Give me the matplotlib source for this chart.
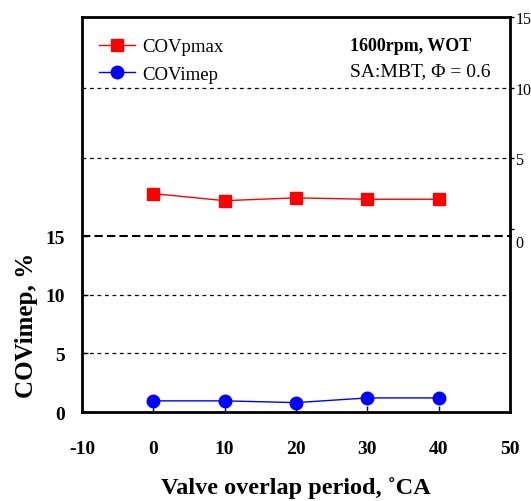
import matplotlib
matplotlib.use("Agg")
import matplotlib.pyplot as plt
import matplotlib.transforms as mtransforms

# data
overlap = [0, 10, 20, 30, 40]
cov_pmax = [2.5, 2.0, 2.2, 2.1, 2.1]
cov_imep = [0.95, 0.95, 0.8, 1.2, 1.2]
y_ticks = [0, 5, 10, 15]
x_ticks = [-10, 0, 10, 20, 30, 40, 50]

plt.rcParams["font.family"] = ["Liberation Serif", "DejaVu Serif"]

W, H = 531, 502
fig = plt.figure(figsize=(W / 100, H / 100), dpi=100)

left, right = 82 / W, 510 / W
bot_lo, top_lo = 1 - 413 / H, 1 - 237 / H
top_up = 1 - 18 / H

# lower panel: COVimep on left axis
ax = fig.add_axes([left, bot_lo, right - left, top_lo - bot_lo])
ax.plot(overlap, cov_imep, color="blue", lw=1, marker="o", ms=9, label="COVimep")
ax.set_xlim(-10, 50)
ax.set_ylim(0, 15)
ax.set_xticks(x_ticks)
ax.set_xticklabels([str(t) for t in x_ticks], fontsize=14, fontweight="bold")
ax.set_yticks(y_ticks)
ax.set_yticklabels([str(t) for t in y_ticks], fontsize=14, fontweight="bold")
ax.tick_params(direction="in", length=4, width=1, pad=12)
ax.tick_params(axis="x", pad=20)
for y in [5, 10]:
    ax.axhline(y, color="black", lw=0.9, ls=(0, (3, 3)))
ax.axhline(15, color="black", lw=1.5, ls=(0, (4, 2)), clip_on=False)
ax.spines["top"].set_visible(False)
for s in ["left", "bottom", "right"]:
    ax.spines[s].set_linewidth(2)
ax.set_xlabel("Valve overlap period, ˚CA", fontsize=17.5, fontweight="bold", labelpad=14)
ax.set_ylabel("COVimep, %", fontsize=18, fontweight="bold", labelpad=6)
ax.patch.set_alpha(0)

# upper panel: COVpmax on right axis
ax2 = fig.add_axes([left, top_lo, right - left, top_up - top_lo])
ax2.plot(overlap, cov_pmax, color="red", lw=1, marker="s", ms=9, label="COVpmax")
ax2.set_xlim(-10, 50)
ax2.set_ylim(-0.5, 15)
ax2.set_xticks([])
ax2.yaxis.tick_right()
ax2.set_yticks(y_ticks)
ax2.set_yticklabels([str(t) for t in y_ticks], fontsize=11.5)
ax2.tick_params(axis="y", direction="out", length=3, width=1, pad=1)
# the right-hand "0" sits a little below its tick in the reference
zero_lbl = ax2.get_yticklabels()[0]
zero_lbl.set_transform(zero_lbl.get_transform() +
                       mtransforms.ScaledTranslation(0, -12 / 100, fig.dpi_scale_trans))
for y in [5, 10]:
    ax2.axhline(y, color="black", lw=0.9, ls=(0, (3, 3)))
ax2.spines["bottom"].set_visible(False)
for s in ["left", "top", "right"]:
    ax2.spines[s].set_linewidth(2)
ax2.patch.set_alpha(0)

h1, l1 = ax2.get_legend_handles_labels()
h2, l2 = ax.get_legend_handles_labels()
ax2.legend(h1 + h2, l1 + l2, loc="upper left", bbox_to_anchor=(0.0, 0.98),
           frameon=False, fontsize=13.5, handlelength=1.9, handletextpad=0.4,
           labelspacing=0.55)

ax2.text(0.625, 0.87, "1600rpm, WOT", transform=ax2.transAxes, fontsize=13,
         fontweight="bold", va="center")
ax2.text(0.625, 0.755, "SA:MBT, Φ = 0.6", transform=ax2.transAxes, fontsize=14,
         va="center")

fig.savefig("out.png", dpi=100)
